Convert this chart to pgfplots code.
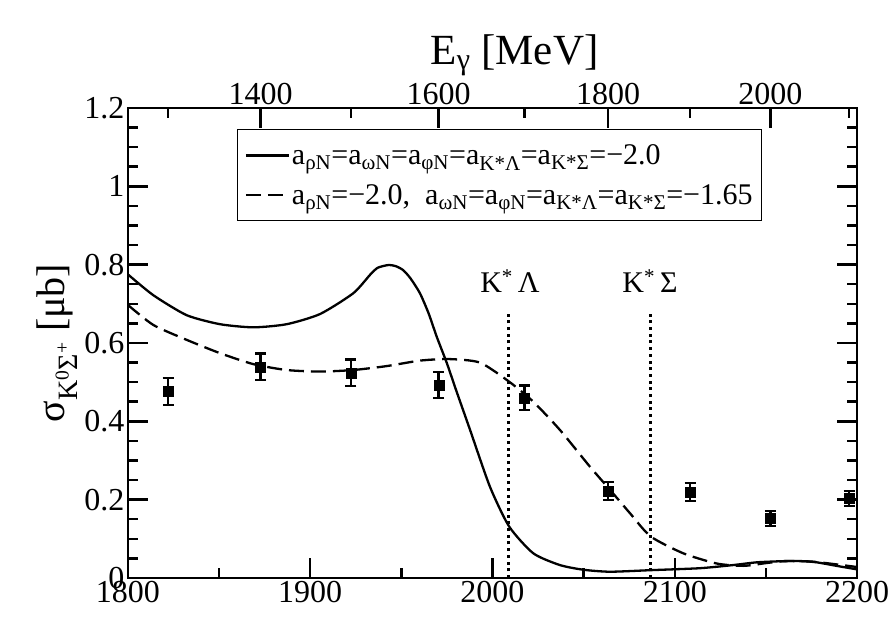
\documentclass[border=0pt]{standalone}
\usepackage{fontspec}
\setmainfont{Liberation Serif}
\usepackage{pgfplots}
\pgfplotsset{compat=1.18}
\begin{document}
\begin{tikzpicture}
\useasboundingbox (-128pt,-40pt) rectangle (767pt,578pt);
\begin{axis}[
  at={(0pt,0pt)}, anchor=south west,
  scale only axis, width=729pt, height=470pt,
  xmin=1800, xmax=2200, ymin=0, ymax=1.2,
  axis line style={line width=1.5pt},
  /pgf/number format/assume math mode=true,
  /pgf/number format/1000 sep={},
  ticklabel style={font=\fontsize{32}{36}\selectfont},
  xtick={1800,1900,2000,2100,2200}, minor x tick num=1,
  ytick={0,0.2,0.4,0.6,0.8,1,1.2}, minor y tick num=3,
  xtick pos=left, ytick pos=both,
  tick align=inside,
  major tick length=20pt, minor tick length=10pt,
  every tick/.style={black, line width=2.5pt},
  ylabel={σ\textsubscript{K\textsuperscript{0}Σ\textsuperscript{+}} [μb]},
  ylabel style={font=\fontsize{40}{44}\selectfont},
  legend style={at={(0.1495,0.955)}, anchor=north west, draw=black, line width=1.3pt,
    font=\fontsize{30}{34}\selectfont, row sep=14pt, inner xsep=7pt, inner ysep=13pt},
  legend cell align=left,
  legend image code/.code={\draw[#1] (0pt,0pt) -- (43pt,0pt);},
]
\addplot[black, line width=2.3pt, smooth, tension=0.4] coordinates {
(1800,0.775) (1813.9,0.722) (1832.2,0.671) (1850.5,0.648) (1868.8,0.640)
(1887.1,0.648) (1905.4,0.674) (1923.6,0.727) (1932.8,0.774) (1937,0.792)
(1942.8,0.799) (1947,0.796) (1951,0.786) (1955,0.765) (1960.2,0.727)
(1965,0.675) (1969.4,0.616) (1975,0.548) (1980,0.480) (1987.7,0.378)
(1998.6,0.233) (2009.2,0.131) (2022.4,0.063) (2037,0.033) (2050,0.021)
(2064.5,0.016) (2086.8,0.020) (2113.8,0.025) (2132,0.033) (2145,0.040)
(2159.6,0.043) (2170,0.043) (2177.9,0.040) (2190,0.030) (2200,0.022)
};
\addlegendentry{a\textsubscript{ρN}=a\textsubscript{ωN}=a\textsubscript{φN}=a\textsubscript{K*Λ}=a\textsubscript{K*Σ}=−2.0}
\addplot[black, line width=2.3pt, smooth, tension=0.4, dash pattern=on 15pt off 7pt] coordinates {
(1800,0.697) (1813.9,0.646) (1832.2,0.608) (1850.5,0.574) (1868.8,0.546)
(1887.1,0.531) (1905.4,0.527) (1923.6,0.531) (1941.9,0.541) (1960.2,0.555)
(1976,0.559) (1993.1,0.550) (2009.2,0.501) (2022.4,0.450) (2037,0.378)
(2053.5,0.284) (2064.5,0.225) (2075.5,0.165) (2086.8,0.106) (2104.7,0.063)
(2123,0.037) (2137.6,0.031) (2150,0.038) (2160,0.043) (2175,0.042)
(2190,0.034) (2200,0.028)
};
\addlegendentry{a\textsubscript{ρN}=−2.0,\ \ a\textsubscript{ωN}=a\textsubscript{φN}=a\textsubscript{K*Λ}=a\textsubscript{K*Σ}=−1.65}
\addplot[black, line width=3pt, dash pattern=on 3pt off 3.7pt, forget plot] coordinates {(2009,0) (2009,0.684)};
\addplot[black, line width=3pt, dash pattern=on 3pt off 3.7pt, forget plot] coordinates {(2086.5,0) (2086.5,0.684)};
\addplot[only marks, mark=square*, mark size=5pt, black, forget plot,
  error bars/.cd, y dir=both, y explicit,
  error bar style={line width=2.5pt},
  error mark options={rotate=90, mark size=5.5pt, line width=2.5pt}]
  table[x=x, y=y, y error=e] {
x y e
1822.0 0.476 0.034
1872.8 0.539 0.034
1922.3 0.524 0.034
1970.5 0.493 0.033
2017.5 0.460 0.031
2063.5 0.222 0.023
2108.5 0.219 0.023
2152.5 0.152 0.019
2195.7 0.203 0.019
};
\node[anchor=base, font=\fontsize{30}{34}\selectfont] at (axis cs:2009.6,0.730) {K\textsuperscript{*}\,Λ};
\node[anchor=base, font=\fontsize{30}{34}\selectfont] at (axis cs:2086.4,0.730) {K\textsuperscript{*}\,Σ};
\end{axis}
\begin{axis}[
  at={(0pt,0pt)}, anchor=south west,
  scale only axis, width=729pt, height=470pt,
  xmin=1800, xmax=2200, ymin=0, ymax=1.2,
  axis line style={line width=1.5pt},
  ticklabel style={font=\fontsize{32}{36}\selectfont},
  hide y axis,
  xtick pos=right, xticklabel pos=right,
  tick align=inside,
  major tick length=20pt, minor tick length=10pt,
  every tick/.style={black, line width=2.5pt},
  xtick={1872.8,1970.5,2063.5,2152.5},
  xticklabels={1400,1600,1800,2000},
  minor xtick={1822.0,1922.3,2017.5,2108.5,2195.7},
  xlabel={E\textsubscript{γ} [MeV]},
  xlabel style={font=\fontsize{43}{48}\selectfont, xshift=22pt},
]
\end{axis}
\end{tikzpicture}
\end{document}
